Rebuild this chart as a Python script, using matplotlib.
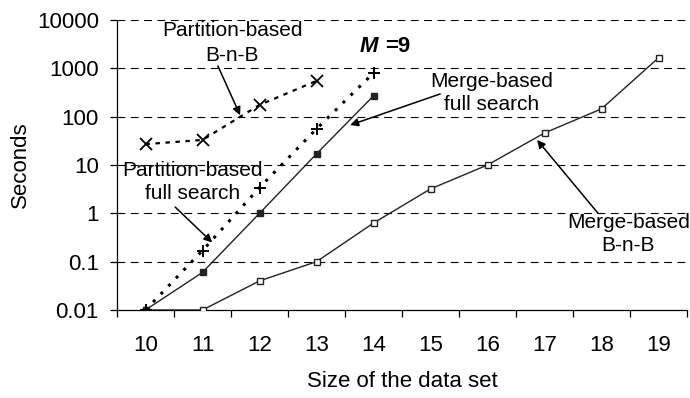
import numpy as np
import matplotlib.pyplot as plt

plt.rcParams["font.family"] = ["Liberation Sans", "DejaVu Sans"]

sizes = ["10", "11", "12", "13", "14", "15", "16", "17", "18", "19"]
merge_bnb = [0.01, 0.01, 0.04, 0.1, 0.63, 3.2, 10, 46, 145, 1650]
merge_full = [0.01, 0.06, 1.0, 17, 270]
part_full = [0.01, 0.17, 3.4, 56, 800]
part_bnb = [27, 33, 175, 550]

x = np.arange(len(sizes))
FS = 16   # axis text
AFS = 15  # annotation text

fig = plt.figure(figsize=(6.9, 3.98), dpi=100)
ax = fig.add_axes([117 / 690, 1 - 310 / 398, 570 / 690, 290 / 398])

ax.set_yscale("log")
ax.set_ylim(0.01, 10000)
ax.set_xlim(-0.5, len(sizes) - 0.5)

for v in [0.1, 1, 10, 100, 1000, 10000]:
    ax.axhline(v, color="black", lw=0.8, dashes=(7, 5), zorder=1)

ax.plot(x, merge_bnb, color="#222222", lw=1.0, marker="s", ms=5,
        mfc="white", mec="#222222", mew=1.0, zorder=3)
ax.plot(x[:5], merge_full, color="#222222", lw=1.0, marker="s", ms=4.5,
        mfc="#222222", mec="#222222", zorder=3)
ax.plot(x[:5], part_full, color="black", lw=2.2, ls=(0, (1, 2.6)),
        marker="+", ms=9, mew=1.4, zorder=4)
ax.plot(x[:4], part_bnb, color="black", lw=1.6, ls=(0, (2, 2.5)),
        marker="x", ms=8, mew=1.3, zorder=4)

ax.spines["top"].set_visible(False)
ax.spines["right"].set_visible(False)
ax.spines["left"].set_linewidth(0.9)
ax.spines["bottom"].set_linewidth(0.9)

ax.set_yticks([0.01, 0.1, 1, 10, 100, 1000, 10000])
ax.set_yticklabels(["0.01", "0.1", "1", "10", "100", "1000", "10000"])
ax.yaxis.set_minor_locator(plt.NullLocator())
ax.tick_params(axis="y", which="major", length=5, width=0.9, labelsize=FS, pad=8)

ax.set_xticks(x)
ax.set_xticklabels(sizes)
ax.set_xticks(np.arange(len(sizes) + 1) - 0.5, minor=True)
ax.tick_params(axis="x", which="major", length=0, labelsize=FS, pad=18)
ax.tick_params(axis="x", which="minor", length=5, width=0.9)

ax.set_xlabel("Size of the data set", fontsize=FS, labelpad=11)
ax.set_ylabel("Seconds", fontsize=FS, labelpad=4)

arrow = dict(arrowstyle="-|>", color="black", lw=1.1, mutation_scale=12,
             shrinkA=0, shrinkB=0)

ax.text(1.52, 3400, "Partition-based\nB-n-B", ha="center", va="center",
        fontsize=AFS, linespacing=1.4)
ax.annotate("", xy=(1.66, 107), xytext=(1.27, 1120), arrowprops=arrow)

ax.text(4.08, 2800, "M", ha="right", va="center", fontsize=FS,
        fontweight="bold", fontstyle="italic")
ax.text(4.2, 2800, "=9", ha="left", va="center", fontsize=FS,
        fontweight="bold")

ax.text(6.08, 309, "Merge-based\nfull search", ha="center", va="center",
        fontsize=AFS, linespacing=1.3)
ax.annotate("", xy=(3.59, 67), xytext=(5.17, 295), arrowprops=arrow)

ax.text(0.83, 4.4, "Partition-based\nfull search", ha="center", va="center",
        fontsize=AFS, linespacing=1.3)
ax.annotate("", xy=(1.17, 0.25), xytext=(0.52, 1.35), arrowprops=arrow)

ax.text(8.47, 0.37, "Merge-based\nB-n-B", ha="center", va="center",
        fontsize=AFS, linespacing=1.3)
ax.annotate("", xy=(6.87, 33), xytext=(7.94, 1.0), arrowprops=arrow)

fig.savefig("out.png", dpi=100)
